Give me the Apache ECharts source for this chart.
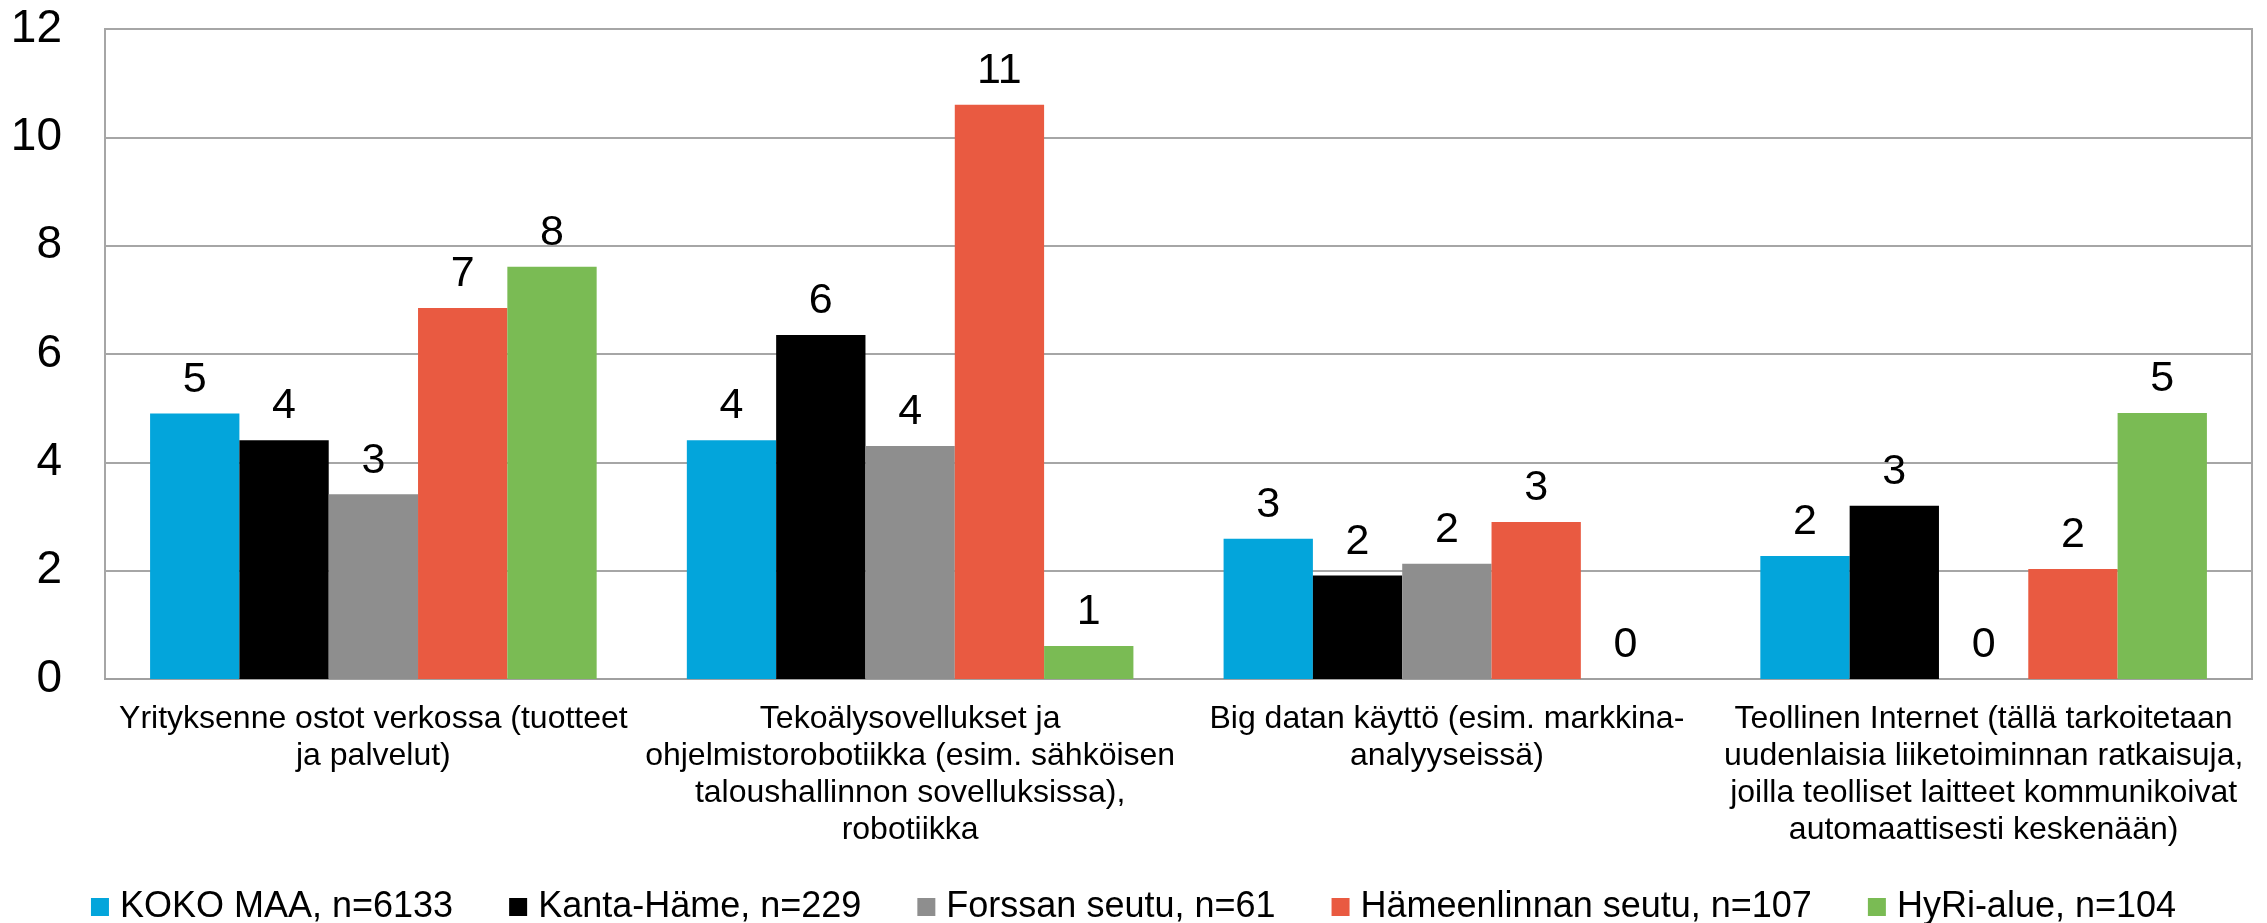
<!DOCTYPE html>
<html>
<head>
<meta charset="utf-8">
<script src="https://cdn.jsdelivr.net/npm/echarts@6/dist/echarts.min.js"></script>
<style>
  html, body { margin: 0; padding: 0; background: #fff; }
  #main { width: 2267px; height: 923px; }
</style>
</head>
<body>
<div id="main"></div>
<script>
// categories (line breaks as in the original)
var categories = [
  'Yrityksenne ostot verkossa (tuotteet\nja palvelut)',
  'Tekoälysovellukset ja\nohjelmistorobotiikka (esim. sähköisen\ntaloushallinnon sovelluksissa),\nrobotiikka',
  'Big datan käyttö (esim. markkina-\nanalyyseissä)',
  'Teollinen Internet (tällä tarkoitetaan\nuudenlaisia liiketoiminnan ratkaisuja,\njoilla teolliset laitteet kommunikoivat\nautomaattisesti keskenään)'
];

var seriesNames = [
  'KOKO MAA, n=6133',
  'Kanta-Häme, n=229',
  'Forssan seutu, n=61',
  'Hämeenlinnan seutu, n=107',
  'HyRi-alue, n=104'
];

// values
var kokoMaa = [4.90, 4.41, 2.59, 2.27];
var kantaHame = [4.41, 6.35, 1.91, 3.20];
var forssa = [3.41, 4.30, 2.13, 0];
var hameenlinna = [6.85, 10.60, 2.90, 2.03];
var hyri = [7.61, 0.61, 0, 4.91];

var yTicks = [0, 2, 4, 6, 8, 10, 12];

var colors = ['#03a5db', '#000000', '#8e8e8e', '#e95a41', '#7abb54'];
var font = "'Liberation Sans', Arial, sans-serif";

var chart = echarts.init(document.getElementById('main'));

function bar(name, data, color) {
  return {
    name: name,
    type: 'bar',
    data: data,
    barGap: '0%',
    barCategoryGap: '16.8%',
    itemStyle: { color: color },
    label: {
      show: true,
      position: 'top',
      distance: 12,
      color: '#000',
      fontSize: 43,
      fontFamily: font,
      formatter: function (p) { return Math.round(p.value); }
    }
  };
}

chart.setOption({
  animation: false,
  color: colors,
  textStyle: { fontFamily: font },
  grid: {
    left: 105,
    right: 15,
    top: 29,
    bottom: 244,
    show: true,
    borderColor: '#a6a6a6',
    borderWidth: 2
  },
  legend: {
    data: seriesNames,
    left: 'center',
    top: 884,
    icon: 'rect',
    itemWidth: 18,
    itemHeight: 18,
    itemGap: 56,
    textStyle: {
      fontSize: 36,
      color: '#000',
      fontFamily: font,
      padding: [0, 0, 0, 6]
    }
  },
  xAxis: {
    type: 'category',
    data: categories,
    axisTick: { show: false },
    axisLine: { lineStyle: { color: '#a0a0a0', width: 2 } },
    axisLabel: {
      interval: 0,
      margin: 22,
      color: '#000',
      fontSize: 32,
      lineHeight: 37,
      fontFamily: font,
      align: 'center'
    }
  },
  yAxis: {
    type: 'value',
    min: yTicks[0],
    max: yTicks[yTicks.length - 1],
    interval: yTicks[1] - yTicks[0],
    axisLine: { show: true, lineStyle: { color: '#a6a6a6', width: 2 } },
    axisTick: { show: false },
    axisLabel: {
      margin: 43,
      color: '#000',
      fontSize: 46,
      fontFamily: font
    },
    splitLine: { lineStyle: { color: '#a6a6a6', width: 2 } }
  },
  series: [
    bar(seriesNames[0], kokoMaa, colors[0]),
    bar(seriesNames[1], kantaHame, colors[1]),
    bar(seriesNames[2], forssa, colors[2]),
    bar(seriesNames[3], hameenlinna, colors[3]),
    bar(seriesNames[4], hyri, colors[4])
  ]
});
</script>
</body>
</html>
